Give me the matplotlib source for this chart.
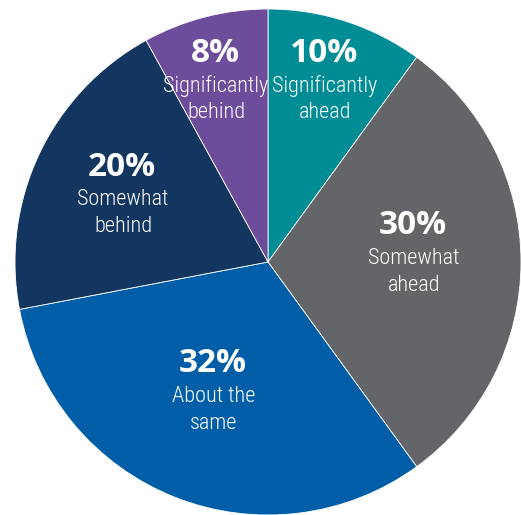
import matplotlib
matplotlib.use("Agg")
import matplotlib.pyplot as plt

# Data (clockwise from 12 o'clock)
categories = ["Significantly\nahead", "Somewhat\nahead", "About the\nsame", "Somewhat\nbehind", "Significantly\nbehind"]
values = [10, 30, 32, 20, 8]
pct_labels = ["10%", "30%", "32%", "20%", "8%"]
colors = ["#008C95", "#636569", "#005EA8", "#133660", "#6E4C9C"]

# Layout (image pixel coordinates for label blocks)
W, H = 521, 515
center_px = (268, 262)
radius_px = 253
label_pos = [(324, 53), (413, 226), (213, 364), (122, 167), (215, 53)]

fig = plt.figure(figsize=(W / 100, H / 100), dpi=100)
ax = fig.add_axes([0, 0, 1, 1])
ax.pie(values, colors=colors, startangle=90, counterclock=False,
       center=(center_px[0], H - center_px[1]), radius=radius_px,
       wedgeprops=dict(edgecolor="white", linewidth=0.6))
ax.set_xlim(0, W)
ax.set_ylim(0, H)
ax.set_aspect("equal")
ax.axis("off")

for (x, y), p, c in zip(label_pos, pct_labels, categories):
    ax.text(x, H - y, p, ha="center", va="center", color="white",
            fontsize=24, fontweight="bold", family=["Open Sans", "DejaVu Sans"])
    ax.text(x + 1, H - (y + 46), c, ha="center", va="center", color="white",
            fontsize=16, fontweight="light", linespacing=1.32,
            family=["Roboto Condensed", "Roboto", "DejaVu Sans"])

fig.savefig("out.png", dpi=100)
